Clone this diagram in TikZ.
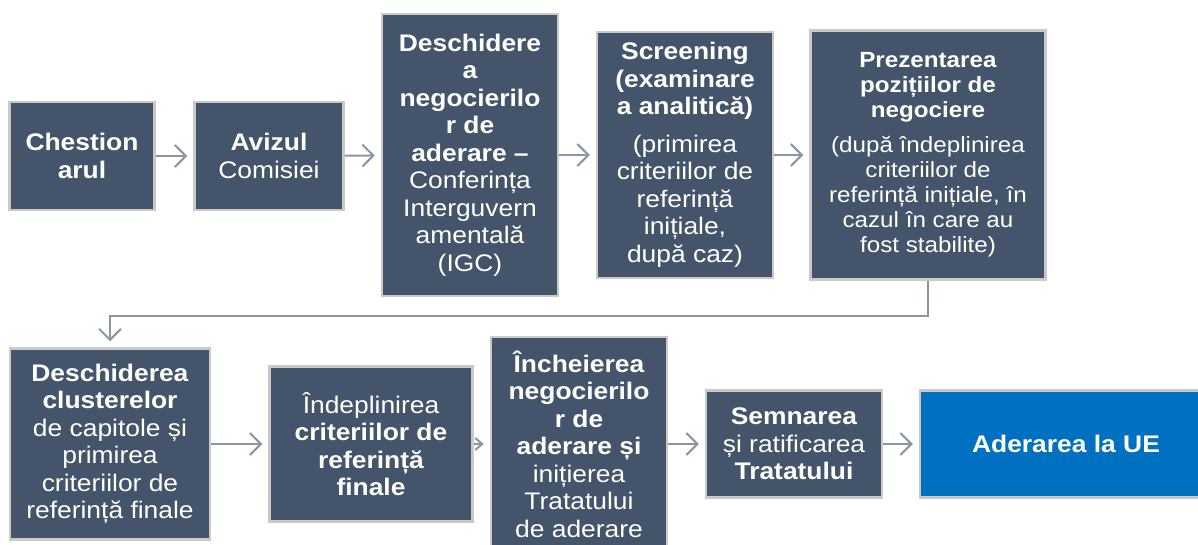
\documentclass[tikz,border=0pt]{standalone}
\usepackage{fontspec}
\setmainfont{Liberation Sans}[FakeStretch=1.1]
\usepackage{xcolor}
\usetikzlibrary{arrows.meta}

\definecolor{boxfill}{HTML}{44546A}
\definecolor{boxline}{HTML}{C9C9C9}
\definecolor{arrowgray}{HTML}{8C96A3}
\definecolor{ueblue}{HTML}{0070C0}

\begin{document}
\begin{tikzpicture}[x=1pt, y=-1pt, >={Straight Barb[length=11pt,width=22pt]},
    stepbox/.style={rectangle, draw=boxline, fill=boxfill, text=white, line width=2.5pt, inner sep=0pt, align=center, font=\fontsize{24}{27.5}\selectfont},
    flow/.style={->, draw=arrowgray, line width=2pt, shorten >=6pt}]
    \useasboundingbox (0,0) rectangle (1198,545);

    % first row
    \node[stepbox, minimum width=145pt, minimum height=108pt] (b1) at (82,156) {\textbf{Chestion}\\\textbf{arul}};
    \node[stepbox, minimum width=149pt, minimum height=108pt] (b2) at (269,156) {\textbf{Avizul}\\Comisiei};
    \node[stepbox, minimum width=176pt, minimum height=282pt] (b3) at (470,155) {\textbf{Deschidere}\\\textbf{a}\\\textbf{negocierilo}\\\textbf{r de}\\\textbf{aderare –}\\Conferința\\Interguvern\\amentală\\(IGC)};
    \node[stepbox, minimum width=176pt, minimum height=246pt] (b4) at (685,155) {\textbf{Screening}\\\textbf{(examinare}\\\textbf{a analitică)}\\[10pt](primirea\\criteriilor de\\referință\\inițiale,\\după caz)};
    \node[stepbox, minimum width=235pt, minimum height=249pt, font=\fontsize{22}{25}\selectfont] (b5) at (928,155) {\textbf{Prezentarea}\\\textbf{pozițiilor de}\\\textbf{negociere}\\[10pt](după îndeplinirea\\criteriilor de\\referință inițiale, în\\cazul în care au\\fost stabilite)};

    % second row
    \node[stepbox, minimum width=200pt, minimum height=191pt] (b6) at (110,444) {\textbf{Deschiderea}\\\textbf{clusterelor}\\de capitole și\\primirea\\criteriilor de\\referință finale};
    \node[stepbox, minimum width=203pt, minimum height=155pt] (b7) at (371,444) {Îndeplinirea\\\textbf{criteriilor de}\\\textbf{referință}\\\textbf{finale}};
    \node[stepbox, minimum width=176pt, minimum height=214pt] (b8) at (579,444) {\textbf{Încheierea}\\\textbf{negocierilo}\\\textbf{r de}\\\textbf{aderare și}\\inițierea\\Tratatului\\de aderare};
    \node[stepbox, minimum width=176pt, minimum height=107pt] (b9) at (794,444) {\textbf{Semnarea}\\și ratificarea\\\textbf{Tratatului}};
    \node[stepbox, fill=ueblue, minimum width=292pt, minimum height=107pt] (b10) at (1066,444) {\textbf{Aderarea la UE}};

    \path[flow]
        (b1) edge (b2)
        (b2) edge (b3)
        (b3) edge (b4)
        (b4) edge (b5)
        (b6) edge (b7)
        (b8) edge (b9)
        (b9) edge (b10);
    \draw[flow, >={Straight Barb[length=7pt,width=12pt]}] (b7) -- (b8);
    \draw[flow] (b5.south) -- ++(0,35) -| (b6.north);
\end{tikzpicture}
\end{document}
